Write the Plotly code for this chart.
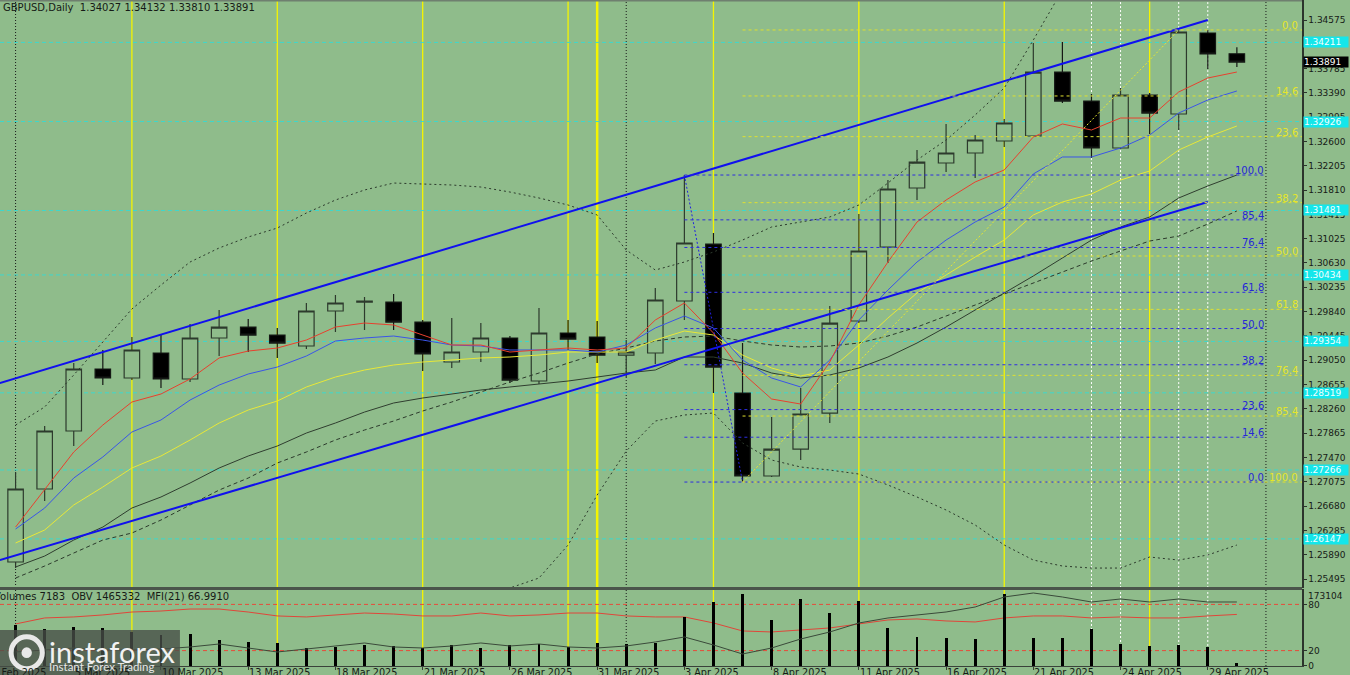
import plotly.graph_objects as go
from datetime import datetime

# ------------------------------------------------------------------ data
dates = ["2025-03-03", "2025-03-04", "2025-03-05", "2025-03-06", "2025-03-07",
         "2025-03-10", "2025-03-11", "2025-03-12", "2025-03-13", "2025-03-14",
         "2025-03-17", "2025-03-18", "2025-03-19", "2025-03-20", "2025-03-21",
         "2025-03-24", "2025-03-25", "2025-03-26", "2025-03-27", "2025-03-28",
         "2025-03-31", "2025-04-01", "2025-04-02", "2025-04-03", "2025-04-04",
         "2025-04-07", "2025-04-08", "2025-04-09", "2025-04-10", "2025-04-11",
         "2025-04-14", "2025-04-15", "2025-04-16", "2025-04-17", "2025-04-18",
         "2025-04-21", "2025-04-22", "2025-04-23", "2025-04-24", "2025-04-25",
         "2025-04-28", "2025-04-29", "2025-04-30"]
future_dates = ["2025-05-01"]

open_ = [1.25771, 1.26957, 1.27899, 1.28906, 1.28760, 1.29166, 1.28744, 1.29410, 1.29588, 1.29458,
         1.29280, 1.29848, 1.29994, 1.29994, 1.29669, 1.29020, 1.29182, 1.29410, 1.28711, 1.29491,
         1.29426, 1.29133, 1.29166, 1.30011, 1.30936, 1.28516, 1.27168, 1.27606, 1.28191, 1.29686,
         1.30888, 1.31846, 1.32252, 1.32415, 1.32610, 1.32691, 1.33730, 1.33259, 1.32496, 1.33357,
         1.33048, 1.34364, 1.34027]
high = [1.27233, 1.27980, 1.29003, 1.29215, 1.29426, 1.29458, 1.29637, 1.29864, 1.29718, 1.29572,
        1.29978, 1.30108, 1.30076, 1.30124, 1.29702, 1.29734, 1.29653, 1.29442, 1.29897, 1.29702,
        1.29686, 1.29377, 1.30222, 1.32057, 1.31115, 1.29328, 1.28126, 1.28597, 1.29929, 1.31424,
        1.31976, 1.32463, 1.32886, 1.32707, 1.32967, 1.34202, 1.34218, 1.33373, 1.33471, 1.33389,
        1.34413, 1.34413, 1.34132]
low = [1.25673, 1.26762, 1.27655, 1.28646, 1.28727, 1.28597, 1.28695, 1.29117, 1.29182, 1.29085,
       1.29231, 1.29507, 1.29539, 1.29539, 1.28873, 1.28922, 1.29020, 1.28679, 1.28662, 1.29215,
       1.29003, 1.28776, 1.28987, 1.29702, 1.28516, 1.27070, 1.27152, 1.27428, 1.28029, 1.29653,
       1.30628, 1.31651, 1.32106, 1.32009, 1.32512, 1.32680, 1.33227, 1.32333, 1.32480, 1.32723,
       1.32788, 1.33779, 1.33810]
close = [1.26957, 1.27899, 1.28906, 1.28760, 1.29215, 1.28744, 1.29410, 1.29588, 1.29458, 1.29328,
         1.29848, 1.29978, 1.30011, 1.29669, 1.29150, 1.29182, 1.29410, 1.28727, 1.29491, 1.29393,
         1.29133, 1.29182, 1.30027, 1.30953, 1.28938, 1.27168, 1.27606, 1.28175, 1.29653, 1.30823,
         1.31830, 1.32268, 1.32415, 1.32626, 1.32902, 1.33730, 1.33259, 1.32496, 1.33357, 1.33064,
         1.34380, 1.34023, 1.33891]

ma_red = [1.26339, 1.26940, 1.27558, 1.27996, 1.28370, 1.28500, 1.28744, 1.29085, 1.29198, 1.29247,
          1.29377, 1.29588, 1.29653, 1.29621, 1.29458, 1.29296, 1.29296, 1.29182, 1.29215, 1.29247,
          1.29215, 1.29247, 1.29702, 1.29978, 1.29491, 1.28841, 1.28419, 1.28337, 1.29020, 1.29946,
          1.30644, 1.31294, 1.31651, 1.31944, 1.32139, 1.32675, 1.32886, 1.32788, 1.32983, 1.32983,
          1.33406, 1.33633, 1.33730]
ma_blue = [1.26307, 1.26648, 1.27135, 1.27477, 1.27883, 1.28078, 1.28402, 1.28646, 1.28825, 1.28938,
           1.29117, 1.29361, 1.29410, 1.29442, 1.29377, 1.29296, 1.29280, 1.29215, 1.29215, 1.29215,
           1.29182, 1.29296, 1.29572, 1.29767, 1.29572, 1.29052, 1.28760, 1.28614, 1.29052, 1.29702,
           1.30189, 1.30644, 1.31001, 1.31294, 1.31538, 1.32074, 1.32350, 1.32350, 1.32496, 1.32707,
           1.33064, 1.33276, 1.33422]
ma_yellow = [1.26080, 1.26291, 1.26697, 1.26989, 1.27298, 1.27493, 1.27753, 1.28029, 1.28240, 1.28386,
             1.28614, 1.28776, 1.28890, 1.28971, 1.29020, 1.29052, 1.29085, 1.29101, 1.29133, 1.29182,
             1.29182, 1.29182, 1.29377, 1.29523, 1.29458, 1.29133, 1.28922, 1.28792, 1.28890, 1.29296,
             1.29734, 1.30141, 1.30433, 1.30725, 1.31001, 1.31408, 1.31619, 1.31749, 1.31976, 1.32122,
             1.32463, 1.32675, 1.32853]
ma_dark = [1.25690, 1.25868, 1.26128, 1.26339, 1.26648, 1.26827, 1.27054, 1.27298, 1.27493, 1.27655,
           1.27866, 1.28029, 1.28207, 1.28354, 1.28435, 1.28500, 1.28565, 1.28614, 1.28662, 1.28711,
           1.28776, 1.28841, 1.28890, 1.29101, 1.29101, 1.29003, 1.28841, 1.28760, 1.28809, 1.28922,
           1.29101, 1.29328, 1.29588, 1.29864, 1.30141, 1.30417, 1.30709, 1.31001, 1.31213, 1.31375,
           1.31684, 1.31879, 1.32057]
bb_mid = [1.25511, 1.25706, 1.25917, 1.26128, 1.26242, 1.26453, 1.26697, 1.26940, 1.27135, 1.27379,
          1.27558, 1.27753, 1.27915, 1.28061, 1.28224, 1.28370, 1.28532, 1.28695, 1.28841, 1.29003,
          1.29150, 1.29247, 1.29361, 1.29426, 1.29442, 1.29361, 1.29296, 1.29263, 1.29280, 1.29328,
          1.29442, 1.29588, 1.29767, 1.29946, 1.30124, 1.30303, 1.30482, 1.30660, 1.30823, 1.30985,
          1.31066, 1.31261, 1.31473]
bb_upper = [1.27996, 1.28289, 1.28809, 1.29345, 1.29881, 1.30270, 1.30644, 1.30872, 1.31050, 1.31196,
            1.31440, 1.31651, 1.31814, 1.31927, 1.31911, 1.31895, 1.31862, 1.31781, 1.31684, 1.31570,
            1.31408, 1.30839, 1.30514, 1.30644, 1.30807, 1.31001, 1.31213, 1.31294, 1.31375, 1.31570,
            1.31927, 1.32301, 1.32626, 1.33032, 1.33471, 1.34250, 1.35062, 1.35712, 1.36200, 1.36524,
            1.36768, 1.36849, 1.36931]
bb_lower = [1.23026, 1.23123, 1.23026, 1.22798, 1.22603, 1.22636, 1.22750, 1.23009, 1.23221, 1.23562,
            1.23675, 1.23854, 1.24017, 1.24195, 1.24504, 1.24829, 1.25154, 1.25349, 1.25511, 1.26047,
            1.26859, 1.27574, 1.28061, 1.28159, 1.28191, 1.27704, 1.27428, 1.27314, 1.27265, 1.27200,
            1.27022, 1.26827, 1.26616, 1.26372, 1.26047, 1.25803, 1.25706, 1.25673, 1.25673, 1.25852,
            1.25803, 1.25885, 1.26047]

volumes = [92000, 83200, 87700, 85400, 76400, 69700, 71900, 58400, 54000, 51700,
           40500, 42700, 47200, 45000, 40500, 47200, 40500, 47200, 49500, 42700,
           51700, 49500, 51700, 110200, 143900, 161900, 103400, 150600, 119100, 146100,
           85400, 65200, 62900, 60700, 161900, 62900, 62900, 83200, 49500, 45000,
           47200, 42700, 7183]
mfi = [54.6, 62.4, 63.7, 66.3, 70.1, 71.4, 74.0, 74.0, 70.1, 65.0,
       63.7, 66.3, 68.8, 67.5, 65.0, 65.0, 68.8, 65.0, 66.3, 68.8,
       68.8, 65.0, 63.7, 63.7, 55.9, 45.5, 44.2, 46.8, 49.4, 54.6,
       59.8, 61.1, 58.5, 57.2, 62.4, 65.0, 65.0, 62.4, 63.7, 62.4,
       62.4, 65.0, 66.99]
obv = [215332, 265332, 315332, 265332, 265332, 290332, 340332, 415332, 315332, 215332,
       290332, 365332, 440332, 340332, 315332, 365332, 440332, 365332, 415332, 340332,
       315332, 365332, 465332, 590332, 390332, 165332, 315332, 540332, 715332, 940332,
       1065332, 1140332, 1215332, 1340332, 1590332, 1690332, 1590332, 1465332, 1540332, 1465332,
       1540332, 1465332, 1465332]

price_ticks = [1.34575, 1.34180, 1.33785, 1.33390, 1.32995, 1.32600, 1.32205, 1.31810, 1.31415,
               1.31025, 1.30630, 1.30235, 1.29840, 1.29445, 1.29050, 1.28655, 1.28260, 1.27865,
               1.27470, 1.27075, 1.26680, 1.26285, 1.25890, 1.25495]
label_dates = ["2025-03-05", "2025-03-10", "2025-03-13", "2025-03-18", "2025-03-21",
               "2025-03-26", "2025-03-31", "2025-04-03", "2025-04-08", "2025-04-11",
               "2025-04-16", "2025-04-21", "2025-04-24", "2025-04-29"]
level_prices = [1.34211, 1.32926, 1.31481, 1.30434, 1.29354, 1.28519, 1.27266, 1.26147]
last_price = 1.33891
symbol = "GBPUSD,Daily"
header_ohlc = [1.34027, 1.34132, 1.33810, 1.33891]
sub_header = "Volumes 7183\u00a0\u00a0OBV 1465332\u00a0\u00a0MFI(21) 66.9910"
vol_max = 173104
mfi_ticks = [0, 20, 80]

fib_levels = [0.0, 14.6, 23.6, 38.2, 50.0, 61.8, 76.4, 85.4, 100.0]
blue_fib = {"hi_date": "2025-04-03", "hi": 1.32057, "lo_date": "2025-04-07", "lo": 1.27070,
            "end_date": "2025-05-01"}
yellow_fib = {"lo_date": "2025-04-07", "lo": 1.27070, "hi_date": "2025-04-28", "hi": 1.34413}

channel_x = [-0.54, 41.0]
channel_upper = [1.28679, 1.34575]
channel_lower = [1.25803, 1.31619]

yellow_vlines = ["2025-03-07", "2025-03-14", "2025-03-21", "2025-03-28",
                 "2025-04-04", "2025-04-11", "2025-04-18", "2025-04-25"]
yellow_thick_vlines = ["2025-03-31"]
black_dotted_vlines = ["2025-03-03", "2025-04-01", "2025-05-01"]
white_dotted_vlines = ["2025-04-23", "2025-04-24", "2025-04-28", "2025-04-29"]

# ------------------------------------------------------------------ helpers
all_dates = dates + future_dates
idx = {d: i for i, d in enumerate(all_dates)}
X = list(range(len(dates)))
X_RANGE = [-0.536, 44.24]
Y_RANGE = [1.25349, 1.34900]

BG = "#8fbc8b"
FONT = "DejaVu Sans"
TXT = "#161a16"


def fmt_date(d):
    dt = datetime.strptime(d, "%Y-%m-%d")
    return f"{dt.day} {dt.strftime('%b')} {dt.year}"


fig = go.Figure()


def add_line(x, y, color, width=1.0, dash=None, xa="x", ya="y"):
    fig.add_trace(go.Scatter(x=x, y=y, mode="lines", xaxis=xa, yaxis=ya,
                             line=dict(color=color, width=width, dash=dash),
                             hoverinfo="skip", showlegend=False))


# Bollinger bands
add_line(X, bb_upper, "#2c3a2c", 1, "2px,3px")
add_line(X, bb_lower, "#2c3a2c", 1, "2px,3px")
add_line(X, bb_mid, "#2c3a2c", 1, "4px,3px")
# moving averages
add_line(X, ma_dark, "#2f3d2f", 1)
add_line(X, ma_yellow, "#e8e838", 1)
add_line(X, ma_blue, "#3a55e8", 1)
add_line(X, ma_red, "#e8402e", 1)

# channel
add_line(channel_x, channel_upper, "#1010ee", 2)
add_line(channel_x, channel_lower, "#1010ee", 2)

# fib diagonals
add_line([idx[blue_fib["hi_date"]], idx[blue_fib["lo_date"]]],
         [blue_fib["hi"], blue_fib["lo"]], "#2020e0", 1, "2px,2px")
add_line([idx[yellow_fib["lo_date"]], idx[yellow_fib["hi_date"]]],
         [yellow_fib["lo"], yellow_fib["hi"]], "#e8e830", 1, "2px,2px")

annotations = []

# blue fib levels
bx0 = idx[blue_fib["hi_date"]]
bx1 = idx[blue_fib["end_date"]]
bxs, bys = [], []
for lv in fib_levels:
    p = blue_fib["lo"] + lv / 100.0 * (blue_fib["hi"] - blue_fib["lo"])
    bxs += [bx0, bx1, None]
    bys += [p, p, None]
    annotations.append(dict(x=bx1, y=p, xref="x", yref="y", text=f"{lv:.1f}", showarrow=False,
                            xanchor="right", yanchor="bottom", yshift=-3,
                            font=dict(family=FONT, size=10, color="#2626d8")))
add_line(bxs, bys, "#2e2ee0", 1, "3px,3px")

# yellow fib levels
yx0 = idx[yellow_fib["lo_date"]]
yxs, yys = [], []
for lv in fib_levels:
    p = yellow_fib["hi"] - lv / 100.0 * (yellow_fib["hi"] - yellow_fib["lo"])
    yxs += [yx0, X_RANGE[1], None]
    yys += [p, p, None]
    annotations.append(dict(x=0.9985, y=p, xref="paper", yref="y", text=f"{lv:.1f}", showarrow=False,
                            xanchor="right", yanchor="bottom", yshift=-3,
                            font=dict(family=FONT, size=10, color="#e6e62a")))
add_line(yxs, yys, "#e0e030", 1, "3px,3px")

# candles
fig.add_trace(go.Candlestick(
    x=X, open=open_, high=high, low=low, close=close, xaxis="x", yaxis="y",
    increasing=dict(line=dict(color="#2d3a2d", width=1.2), fillcolor=BG),
    decreasing=dict(line=dict(color="#151815", width=1.2), fillcolor="#000000"),
    whiskerwidth=0, hoverinfo="skip", showlegend=False))

# lower panel: volumes, MFI, OBV
fig.add_trace(go.Bar(x=X, y=volumes, xaxis="x2", yaxis="y3", width=0.1,
                     marker=dict(color="#000000", line=dict(width=0)),
                     hoverinfo="skip", showlegend=False))
add_line(X, mfi, "#e0463a", 1, None, "x2", "y2")
add_line(X, obv, "#3a4a3a", 1, None, "x2", "y4")

# ------------------------------------------------------------------ shapes
shapes = []
for d in yellow_vlines:
    shapes.append(dict(type="line", xref="x", yref="paper", x0=idx[d], x1=idx[d], y0=0, y1=1,
                       line=dict(color="#f5f500", width=1.3), layer="below"))
for d in yellow_thick_vlines:
    shapes.append(dict(type="line", xref="x", yref="paper", x0=idx[d], x1=idx[d], y0=0, y1=1,
                       line=dict(color="#f5f500", width=2.5), layer="below"))
for d in black_dotted_vlines:
    shapes.append(dict(type="line", xref="x", yref="paper", x0=idx[d], x1=idx[d], y0=0, y1=1,
                       line=dict(color="#1a1a1a", width=1, dash="1px,2px"), layer="below"))
for d in white_dotted_vlines:
    shapes.append(dict(type="line", xref="x", yref="paper", x0=idx[d], x1=idx[d], y0=0.117, y1=1,
                       line=dict(color="#ffffff", width=1, dash="2px,2px"), layer="below"))
    shapes.append(dict(type="line", xref="x", yref="paper", x0=idx[d], x1=idx[d], y0=0, y1=0.115,
                       line=dict(color="#ffffff", width=1, dash="2px,2px"), layer="below"))
for p in level_prices:
    shapes.append(dict(type="line", xref="paper", yref="y", x0=0, x1=1, y0=p, y1=p,
                       line=dict(color="#3ed8cc", width=1, dash="4px,3px"), layer="below"))
for v in (20, 80):
    shapes.append(dict(type="line", xref="paper", yref="y2", x0=0, x1=1, y0=v, y1=v,
                       line=dict(color="#e84a3a", width=1, dash="4px,3px"), layer="below"))
# panel separator & frame
shapes.append(dict(type="line", xref="paper", yref="paper", x0=0, x1=1, y0=0.1164, y1=0.1164,
                   line=dict(color="#4b554b", width=3)))
shapes.append(dict(type="line", xref="paper", yref="paper", x0=0, x1=1, y0=0.999, y1=0.999,
                   line=dict(color="#6f7f6f", width=1.5)))
# logo box
shapes.append(dict(type="rect", xref="paper", yref="paper", x0=0, x1=0.1382, y0=-0.0135, y1=0.0541,
                   fillcolor="rgba(72,78,72,0.78)", line=dict(width=0)))
shapes.append(dict(type="circle", xref="paper", yref="paper", x0=0.0085, x1=0.0325, y0=-0.004, y1=0.044,
                   fillcolor="rgba(0,0,0,0)", line=dict(color="#e8e8e8", width=5)))
shapes.append(dict(type="circle", xref="paper", yref="paper", x0=0.0165, x1=0.0245, y0=0.012, y1=0.028,
                   fillcolor="#e8e8e8", line=dict(width=0)))

# ------------------------------------------------------------------ annotations
annotations.append(dict(x=0, y=1, xref="paper", yref="paper", xanchor="left", yanchor="top",
                        xshift=1, yshift=0, showarrow=False,
                        text=symbol + "\u00a0\u00a0" + " ".join(f"{v:.5f}" for v in header_ohlc),
                        font=dict(family=FONT, size=10, color=TXT)))
annotations.append(dict(x=0, y=0.1156, xref="paper", yref="paper", xanchor="left", yanchor="top",
                        xshift=-8, yshift=0, showarrow=False, text=sub_header,
                        font=dict(family=FONT, size=10, color=TXT)))
# price boxes
for p in level_prices:
    annotations.append(dict(x=1, y=p, xref="paper", yref="y", xanchor="left", yanchor="middle",
                            xshift=1, showarrow=False, text=f"{p:.5f}", bgcolor="#14e6ea",
                            width=44, align="left", borderpad=0,
                            font=dict(family=FONT, size=9, color="#f4ffff")))
annotations.append(dict(x=1, y=last_price, xref="paper", yref="y", xanchor="left", yanchor="middle",
                        xshift=1, showarrow=False, text=f"{last_price:.5f}", bgcolor="#000000",
                        width=44, align="left", borderpad=0,
                        font=dict(family=FONT, size=9, color="#ffffff")))
annotations.append(dict(x=1, y=vol_max, xref="paper", yref="y3", xanchor="left", yanchor="top",
                        xshift=4, showarrow=False, text=str(vol_max),
                        font=dict(family=FONT, size=9, color=TXT)))
# date labels
for d in label_dates:
    annotations.append(dict(x=idx[d], y=0, xref="x2", yref="paper", xanchor="left", yanchor="top",
                            xshift=-1, yshift=1, showarrow=False, text=fmt_date(d),
                            font=dict(family=FONT, size=9.7, color=TXT)))
annotations.append(dict(x=0, y=0, xref="paper", yref="paper", xanchor="left", yanchor="top",
                        xshift=-16, yshift=1, showarrow=False, text=fmt_date("2025-02-28"),
                        font=dict(family=FONT, size=9.7, color=TXT)))
# logo text
annotations.append(dict(x=0.036, y=0.022, xref="paper", yref="paper", xanchor="left", yanchor="middle",
                        showarrow=False, text="instaforex",
                        font=dict(family="Lato", size=29, color="#f2f2f2")))
annotations.append(dict(x=0.036, y=-0.001, xref="paper", yref="paper", xanchor="left", yanchor="middle",
                        showarrow=False, text="Instant Forex Trading",
                        font=dict(family="Lato", size=11.5, color="#e6e6e6")))

# ------------------------------------------------------------------ layout
fig.update_layout(
    width=1350, height=675,
    margin=dict(l=0, r=48, t=0, b=9),
    paper_bgcolor=BG, plot_bgcolor=BG,
    font=dict(family=FONT, size=9, color=TXT),
    showlegend=False, hovermode=False,
    boxgap=0.24, bargap=0,
    xaxis=dict(domain=[0, 1], anchor="y", range=X_RANGE, showgrid=False, zeroline=False,
               showticklabels=False, rangeslider=dict(visible=False), fixedrange=True,
               automargin=False),
    xaxis2=dict(domain=[0, 1], anchor="y2", matches="x", range=X_RANGE, showgrid=False,
                zeroline=False, showticklabels=False, showline=True, linecolor="#3a423a",
                linewidth=1, ticks="outside", ticklen=3, tickcolor="#3a423a",
                tickvals=[idx[d] for d in label_dates], rangeslider=dict(visible=False),
                automargin=False),
    yaxis=dict(domain=[0.11712, 1], anchor="x", side="right", range=Y_RANGE, showgrid=False,
               zeroline=False, showline=True, linecolor="#2c342c", linewidth=1.5,
               ticks="outside", ticklen=3, tickcolor="#2c342c", automargin=False,
               tickvals=price_ticks, ticktext=[f"{v:.5f}" for v in price_ticks],
               tickfont=dict(family=FONT, size=9, color=TXT)),
    yaxis2=dict(domain=[0, 0.11562], anchor="x2", side="right", range=[0, 100], showgrid=False,
                zeroline=False, showline=True, linecolor="#2c342c", linewidth=1.5,
                ticks="outside", ticklen=3, tickcolor="#2c342c", automargin=False,
                tickvals=mfi_ticks, ticktext=[str(v) for v in mfi_ticks],
                tickfont=dict(family=FONT, size=9, color=TXT)),
    yaxis3=dict(overlaying="y2", side="right", range=[0, vol_max], visible=False),
    yaxis4=dict(overlaying="y2", side="right", range=[-134668, 1790332], visible=False),
    shapes=shapes,
    annotations=annotations,
)

fig.write_html("out.html", config={"displayModeBar": False, "staticPlot": True},
               post_script="document.body.style.margin='0';document.body.style.overflow='hidden';")
